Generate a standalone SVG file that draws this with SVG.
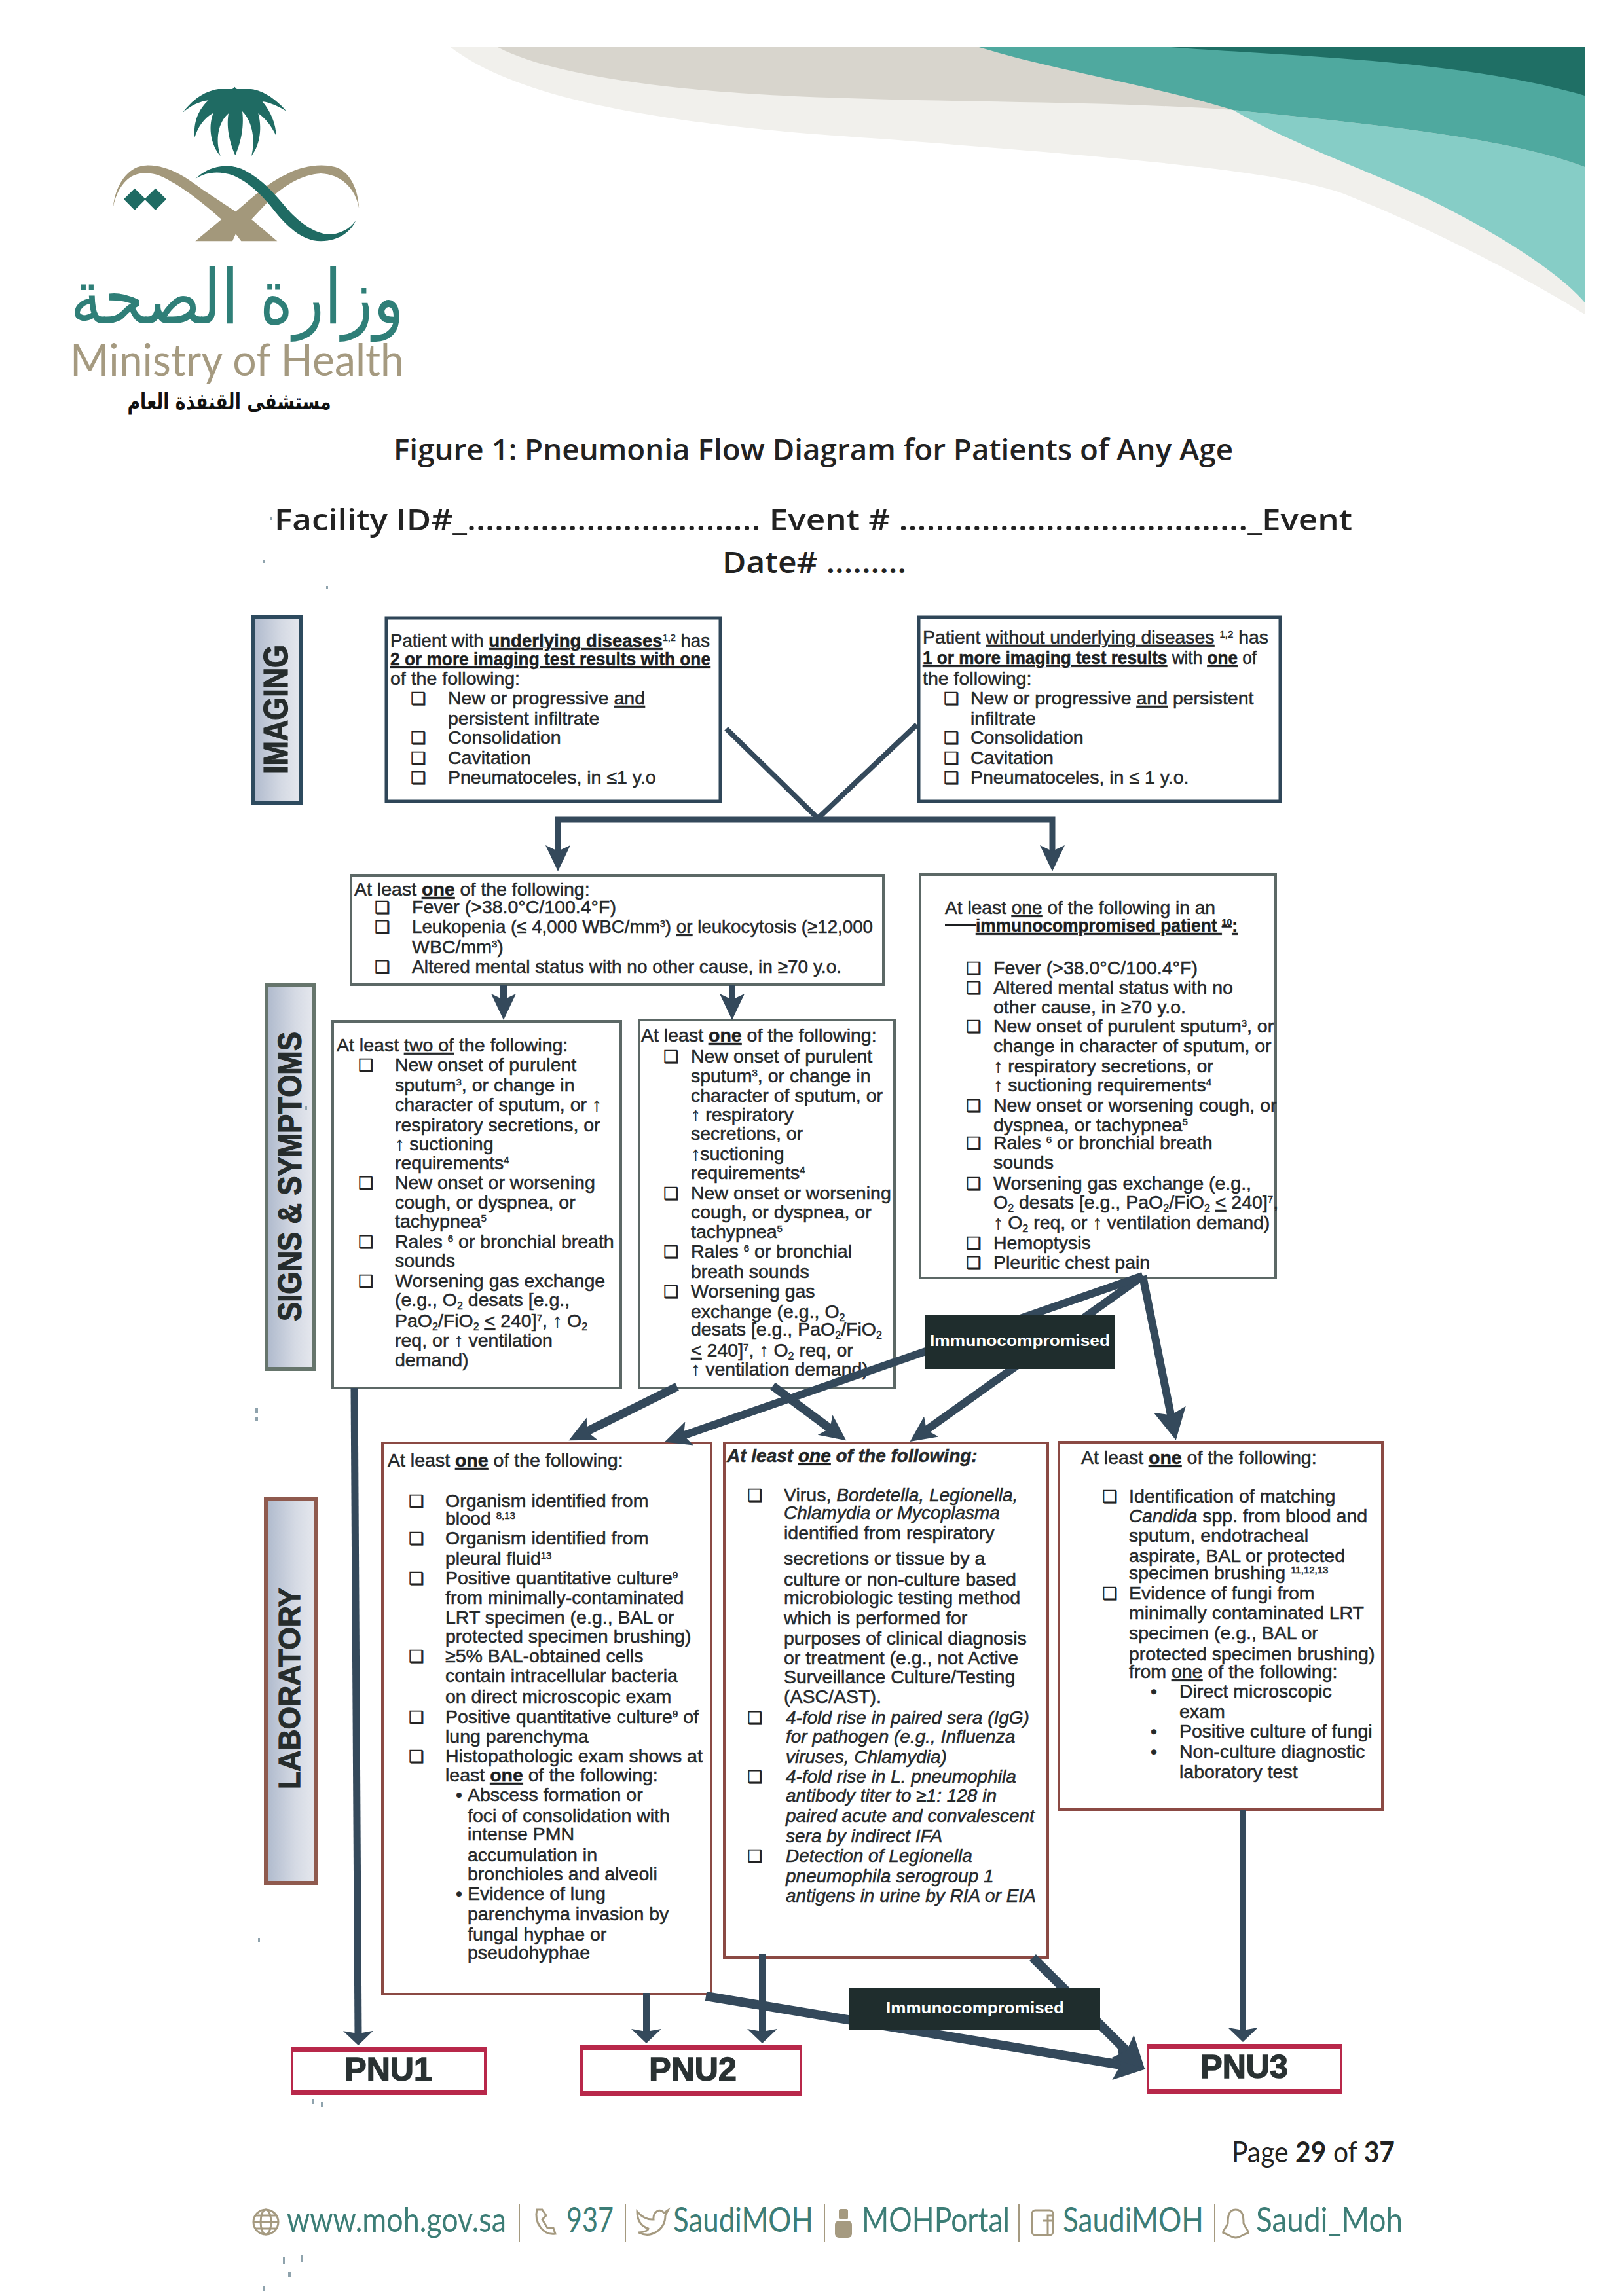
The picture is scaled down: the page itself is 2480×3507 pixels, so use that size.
<svg xmlns="http://www.w3.org/2000/svg" width="2480" height="3507" viewBox="0 0 2480 3507">
<style>
text{font-family:"Liberation Sans",Arial,sans-serif}
.t{font-size:28.5px;fill:#26292b;stroke:#26292b;stroke-width:.55}
.i{font-style:italic;font-size:28px}
.h{font-weight:bold;text-decoration:underline;fill:#1c1e20}
.u{text-decoration:underline}
.c{font-family:"DejaVu Sans",sans-serif;font-size:26px;fill:#222;stroke:#222;stroke-width:.7}
.s{font-size:15px;baseline-shift:9px}
.d{font-size:16px;baseline-shift:-5px}
.box{fill:#fff;stroke-width:4}
.im{stroke:#2f4658;stroke-width:5}.sg{stroke:#5c6866}.lb{stroke:#8b4a44}
.side{stroke-width:6;fill:url(#g)}
.lab{font-weight:bold;fill:#262c2c;stroke:#262c2c;stroke-width:1.2}
.ln{stroke:#34495b;fill:none;stroke-width:10}
.pn{fill:#fff;stroke:#b8284a;stroke-width:4}
.pb{fill:#b8284a}
.pt{font-size:50px;font-weight:bold;fill:#2a3233;stroke:#2a3233;stroke-width:1.5;text-anchor:middle}
.imm{fill:#1f2d2d}
.it{font-size:24px;font-weight:bold;fill:#fff}
.hd{font-family:"Open Sans",sans-serif;font-weight:600;fill:#222}
.ft{font-family:"Lato",sans-serif;font-size:52px;fill:#3c7d76}
.ic{fill:none;stroke:#a59a80;stroke-width:3}
.sep{stroke:#a59a80;stroke-width:2}
.sp{fill:#8fa3ad}
</style>
<defs>
<linearGradient id="g" x1="0" y1="0" x2="1" y2="0"><stop offset="0" stop-color="#aeb9cc"/><stop offset=".6" stop-color="#d5dae4"/><stop offset="1" stop-color="#e6e8ee"/></linearGradient>
<marker id="a" markerUnits="userSpaceOnUse" markerWidth="60" markerHeight="60" refX="26" refY="30" orient="auto"><path d="M0,11 L40,30 L0,49 L9,30 Z" fill="#34495b"/></marker>
<marker id="p" markerUnits="userSpaceOnUse" markerWidth="60" markerHeight="60" refX="8" refY="30" orient="auto"><path d="M0,7 L22,30 L0,53 L4,30 Z" fill="#34495b"/></marker>
<marker id="b" markerUnits="userSpaceOnUse" markerWidth="70" markerHeight="70" refX="34" refY="35" orient="auto"><path d="M0,10 L48,35 L0,60 L9,35 Z" fill="#34495b"/></marker>
</defs>
<rect width="2480" height="3507" fill="#fff"/>

<g id="header">
<path d="M688,72 C790,150 1000,190 1345,212 C1700,240 1960,260 2057,298 C2200,355 2340,430 2420,480 L2420,72 Z" fill="#f1f0ec"/>
<path d="M760,72 C830,110 1000,140 1266,149 C1500,157 1700,155 1883,168 L1883,72 Z" fill="#d8d5cd"/>
<path d="M1883,168 C1980,225 2130,275 2215,321 C2300,365 2385,420 2420,462 L2420,255 C2300,210 2100,190 1883,168 Z" fill="#86cdc6"/>
<path d="M1495,72 C1620,110 1760,130 1883,168 C2100,190 2300,210 2420,255 L2420,72 Z" fill="#4fa99f"/>
<path d="M1788,72 C1950,85 2230,90 2420,146 L2420,72 Z" fill="#1f6f65"/>
</g>

<g id="logo">
<g transform="translate(160,120) scale(.3333)">
<path d="M358,155 C400,100 450,60 520,48 L585,48 L595,38 L605,48 L670,48 C730,55 790,100 833,150 C800,130 760,110 722,105 C760,150 785,210 785,262 C765,220 735,180 703,160 C720,220 715,300 672,355 C690,290 680,200 630,150 C640,230 620,300 598,352 C575,300 555,230 567,160 C520,200 505,280 530,355 C490,310 470,230 497,158 C455,180 425,225 412,270 C405,200 430,140 475,100 C430,105 395,125 358,155 Z" fill="#1f6b63"/>
<path d="M38,590 C50,480 110,400 190,398 C290,395 370,450 450,510 L600,610 C680,540 760,470 830,440 C900,400 1000,385 1070,410 C1130,440 1160,510 1165,595 C1150,510 1090,440 990,435 C900,440 830,490 780,530 L672,645 L790,745 L625,745 L600,712 L585,745 L415,745 L535,645 C450,570 360,500 300,470 C240,430 170,420 120,450 C75,480 50,530 38,590 Z" fill="#a3987b"/>
<path d="M415,460 C470,405 560,380 640,420 C720,460 780,530 830,590 C890,660 980,730 1060,710 C1100,700 1130,680 1150,650 C1130,700 1070,745 990,745 C900,745 830,670 780,610 C720,530 650,470 590,445 C520,420 460,430 415,460 Z" fill="#1f6b63"/>
<path d="M87,553 L137,503 L187,553 L137,603 Z M182,553 L232,503 L282,553 L232,603 Z" fill="#1f6b63"/>
</g>
<text x="362" y="494" text-anchor="middle" style="font-family:'DejaVu Sans',sans-serif;font-size:116px;fill:#2f7f78" textLength="510" lengthAdjust="spacingAndGlyphs" direction="rtl">وزارة الصحة</text>
<text x="107" y="574" style="font-family:Lato,sans-serif;font-size:68px;fill:#a59a80" textLength="510" lengthAdjust="spacingAndGlyphs">Ministry of Health</text>
<text x="350" y="625" text-anchor="middle" style="font-family:'DejaVu Sans',sans-serif;font-size:34px;font-weight:bold;fill:#111" textLength="311" lengthAdjust="spacingAndGlyphs" direction="rtl">مستشفى القنفذة العام</text>
</g>

<g id="title">
<text class="hd" x="601" y="703" font-size="46" textLength="1282" lengthAdjust="spacingAndGlyphs">Figure 1: Pneumonia Flow Diagram for Patients of Any Age</text>
<text class="hd" x="419" y="810" font-size="46" textLength="1646" lengthAdjust="spacingAndGlyphs">Facility ID#_................................ Event # ......................................_Event</text>
<text class="hd" x="1103" y="875" font-size="46" textLength="281" lengthAdjust="spacingAndGlyphs">Date# .........</text>
</g>

<g id="side-imaging"><rect class="side" x="386" y="943" width="74" height="283" stroke="#2d4a5e"/><text class="lab" transform="translate(439,1182) rotate(-90)" font-size="52" textLength="197" lengthAdjust="spacingAndGlyphs">IMAGING</text></g>
<g id="side-signs"><rect class="side" x="407" y="1505" width="73" height="586" stroke="#66756c"/><text class="lab" transform="translate(460,2018) rotate(-90)" font-size="50" textLength="442" lengthAdjust="spacingAndGlyphs">SIGNS &amp; SYMPTOMS</text></g>
<g id="side-lab"><rect class="side" x="406" y="2289" width="76" height="587" stroke="#8f5a4e"/><text class="lab" transform="translate(458,2733) rotate(-90)" font-size="46" textLength="308" lengthAdjust="spacingAndGlyphs">LABORATORY</text></g>

<g id="img-underlying"><rect class="box im" x="590" y="944" width="510" height="280"/>
<text class="t" x="596" y="988" textLength="488" lengthAdjust="spacingAndGlyphs">Patient with <tspan class="h">underlying diseases</tspan><tspan class="s">1,2</tspan> has</text>
<text class="t h" x="596" y="1016" textLength="489" lengthAdjust="spacingAndGlyphs">2 or more imaging test results with one</text>
<text class="t" x="596" y="1046">of the following:</text>
<text class="c" x="627" y="1076">❑</text><text class="t" x="684" y="1076">New or progressive <tspan class="u">and</tspan></text>
<text class="t" x="684" y="1107">persistent infiltrate</text>
<text class="c" x="627" y="1136">❑</text><text class="t" x="684" y="1136">Consolidation</text>
<text class="c" x="627" y="1167">❑</text><text class="t" x="684" y="1167">Cavitation</text>
<text class="c" x="627" y="1197">❑</text><text class="t" x="684" y="1197">Pneumatoceles, in ≤1 y.o</text></g>

<g id="img-without"><rect class="box im" x="1403" y="943" width="552" height="281"/>
<text class="t" x="1409" y="983" textLength="528" lengthAdjust="spacingAndGlyphs">Patient <tspan class="u">without underlying diseases</tspan> <tspan class="s">1,2</tspan> has</text>
<text class="t" x="1409" y="1014" textLength="510" lengthAdjust="spacingAndGlyphs"><tspan class="h">1 or more imaging test results</tspan> with <tspan class="h">one</tspan> of</text>
<text class="t" x="1409" y="1046">the following:</text>
<text class="c" x="1441" y="1076">❑</text><text class="t" x="1482" y="1076">New or progressive <tspan class="u">and</tspan> persistent</text>
<text class="t" x="1482" y="1107">infiltrate</text>
<text class="c" x="1441" y="1136">❑</text><text class="t" x="1482" y="1136">Consolidation</text>
<text class="c" x="1441" y="1167">❑</text><text class="t" x="1482" y="1167">Cavitation</text>
<text class="c" x="1441" y="1197">❑</text><text class="t" x="1482" y="1197">Pneumatoceles, in ≤ 1 y.o.</text></g>

<g id="sym-general"><rect class="box sg" x="536" y="1337" width="813" height="167"/>
<text class="t" x="541" y="1368">At least <tspan class="h">one</tspan> of the following:</text>
<text class="c" x="572" y="1395">❑</text><text class="t" x="629" y="1395">Fever (&gt;38.0°C/100.4°F)</text>
<text class="c" x="572" y="1425">❑</text><text class="t" x="629" y="1425" textLength="704" lengthAdjust="spacingAndGlyphs">Leukopenia (≤ 4,000 WBC/mm<tspan class="s">3</tspan>) <tspan class="u">or</tspan> leukocytosis (≥12,000</text>
<text class="t" x="629" y="1456">WBC/mm<tspan class="s">3</tspan>)</text>
<text class="c" x="572" y="1486">❑</text><text class="t" x="629" y="1486" textLength="656" lengthAdjust="spacingAndGlyphs">Altered mental status with no other cause, in ≥70 y.o.</text></g>

<g id="sym-two"><rect class="box sg" x="508" y="1560" width="440" height="560"/>
<text class="t" x="514" y="1606">At least <tspan class="u">two of</tspan> the following:</text>
<text class="c" x="547" y="1636">❑</text><text class="t" x="603" y="1636">New onset of purulent</text>
<text class="t" x="603" y="1667">sputum<tspan class="s">3</tspan>, or change in</text>
<text class="t" x="603" y="1697">character of sputum, or ↑</text>
<text class="t" x="603" y="1728">respiratory secretions, or</text>
<text class="t" x="603" y="1757">↑ suctioning</text>
<text class="t" x="603" y="1786">requirements<tspan class="s">4</tspan></text>
<text class="c" x="547" y="1816">❑</text><text class="t" x="603" y="1816">New onset or worsening</text>
<text class="t" x="603" y="1846">cough, or dyspnea, or</text>
<text class="t" x="603" y="1875">tachypnea<tspan class="s">5</tspan></text>
<text class="c" x="547" y="1906">❑</text><text class="t" x="603" y="1906">Rales <tspan class="s">6</tspan> or bronchial breath</text>
<text class="t" x="603" y="1935">sounds</text>
<text class="c" x="547" y="1966">❑</text><text class="t" x="603" y="1966">Worsening gas exchange</text>
<text class="t" x="603" y="1995">(e.g., O<tspan class="d">2</tspan> desats [e.g.,</text>
<text class="t" x="603" y="2027">PaO<tspan class="d">2</tspan>/FiO<tspan class="d">2</tspan> <tspan class="u">&lt;</tspan> 240]<tspan class="s">7</tspan>, ↑ O<tspan class="d">2</tspan></text>
<text class="t" x="603" y="2057">req, or ↑ ventilation</text>
<text class="t" x="603" y="2087">demand)</text></g>

<g id="sym-one"><rect class="box sg" x="976" y="1558" width="390" height="562"/>
<text class="t" x="979" y="1591">At least <tspan class="h">one</tspan> of the following:</text>
<text class="c" x="1013" y="1623">❑</text><text class="t" x="1055" y="1623">New onset of purulent</text>
<text class="t" x="1055" y="1653">sputum<tspan class="s">3</tspan>, or change in</text>
<text class="t" x="1055" y="1683">character of sputum, or</text>
<text class="t" x="1055" y="1712">↑ respiratory</text>
<text class="t" x="1055" y="1741">secretions, or</text>
<text class="t" x="1055" y="1772">↑suctioning</text>
<text class="t" x="1055" y="1801">requirements<tspan class="s">4</tspan></text>
<text class="c" x="1013" y="1832">❑</text><text class="t" x="1055" y="1832">New onset or worsening</text>
<text class="t" x="1055" y="1861">cough, or dyspnea, or</text>
<text class="t" x="1055" y="1891">tachypnea<tspan class="s">5</tspan></text>
<text class="c" x="1013" y="1921">❑</text><text class="t" x="1055" y="1921">Rales <tspan class="s">6</tspan> or bronchial</text>
<text class="t" x="1055" y="1952">breath sounds</text>
<text class="c" x="1013" y="1982">❑</text><text class="t" x="1055" y="1982">Worsening gas</text>
<text class="t" x="1055" y="2013">exchange (e.g., O<tspan class="d">2</tspan></text>
<text class="t" x="1055" y="2040">desats [e.g., PaO<tspan class="d">2</tspan>/FiO<tspan class="d">2</tspan></text>
<text class="t" x="1055" y="2072"><tspan class="u">&lt;</tspan> 240]<tspan class="s">7</tspan>, ↑ O<tspan class="d">2</tspan> req, or</text>
<text class="t" x="1055" y="2101">↑ ventilation demand)</text></g>

<g id="sym-immuno"><rect class="box sg" x="1405" y="1336" width="543" height="616"/>
<text class="t" x="1443" y="1396" textLength="413" lengthAdjust="spacingAndGlyphs">At least <tspan class="u">one</tspan> of the following in an</text>
<path d="M1443,1413 H1490" stroke="#1c1e20" stroke-width="4"/>
<text class="t h" x="1490" y="1423" textLength="400" lengthAdjust="spacingAndGlyphs">immunocompromised patient <tspan class="s">10</tspan>:</text>
<text class="c" x="1475" y="1488">❑</text><text class="t" x="1517" y="1488">Fever (&gt;38.0°C/100.4°F)</text>
<text class="c" x="1475" y="1518">❑</text><text class="t" x="1517" y="1518">Altered mental status with no</text>
<text class="t" x="1517" y="1548">other cause, in ≥70 y.o.</text>
<text class="c" x="1475" y="1577">❑</text><text class="t" x="1517" y="1577">New onset of purulent sputum<tspan class="s">3</tspan>, or</text>
<text class="t" x="1517" y="1607">change in character of sputum, or</text>
<text class="t" x="1517" y="1638">↑ respiratory secretions, or</text>
<text class="t" x="1517" y="1667">↑ suctioning requirements<tspan class="s">4</tspan></text>
<text class="c" x="1475" y="1698">❑</text><text class="t" x="1517" y="1698">New onset or worsening cough, or</text>
<text class="t" x="1517" y="1728">dyspnea, or tachypnea<tspan class="s">5</tspan></text>
<text class="c" x="1475" y="1755">❑</text><text class="t" x="1517" y="1755">Rales <tspan class="s">6</tspan> or bronchial breath</text>
<text class="t" x="1517" y="1785">sounds</text>
<text class="c" x="1475" y="1817">❑</text><text class="t" x="1517" y="1817">Worsening gas exchange (e.g.,</text>
<text class="t" x="1517" y="1846">O<tspan class="d">2</tspan> desats [e.g., PaO<tspan class="d">2</tspan>/FiO<tspan class="d">2</tspan> <tspan class="u">&lt;</tspan> 240]<tspan class="s">7</tspan>,</text>
<text class="t" x="1517" y="1877">↑ O<tspan class="d">2</tspan> req, or ↑ ventilation demand)</text>
<text class="c" x="1475" y="1908">❑</text><text class="t" x="1517" y="1908">Hemoptysis</text>
<text class="c" x="1475" y="1938">❑</text><text class="t" x="1517" y="1938">Pleuritic chest pain</text></g>

<g id="lab-bacterial"><rect class="box lb" x="584" y="2204" width="502" height="842"/>
<text class="t" x="592" y="2240">At least <tspan class="h">one</tspan> of the following:</text>
<text class="c" x="624" y="2302">❑</text><text class="t" x="680" y="2302">Organism identified from</text>
<text class="t" x="680" y="2329">blood <tspan class="s">8,13</tspan></text>
<text class="c" x="624" y="2359">❑</text><text class="t" x="680" y="2359">Organism identified from</text>
<text class="t" x="680" y="2390">pleural fluid<tspan class="s">13</tspan></text>
<text class="c" x="624" y="2420">❑</text><text class="t" x="680" y="2420">Positive quantitative culture<tspan class="s">9</tspan></text>
<text class="t" x="680" y="2450">from minimally-contaminated</text>
<text class="t" x="680" y="2480">LRT specimen (e.g., BAL or</text>
<text class="t" x="680" y="2509">protected specimen brushing)</text>
<text class="c" x="624" y="2539">❑</text><text class="t" x="680" y="2539">≥5% BAL-obtained cells</text>
<text class="t" x="680" y="2569">contain intracellular bacteria</text>
<text class="t" x="680" y="2601">on direct microscopic exam</text>
<text class="c" x="624" y="2632">❑</text><text class="t" x="680" y="2632">Positive quantitative culture<tspan class="s">9</tspan> of</text>
<text class="t" x="680" y="2662">lung parenchyma</text>
<text class="c" x="624" y="2692">❑</text><text class="t" x="680" y="2692">Histopathologic exam shows at</text>
<text class="t" x="680" y="2721">least <tspan class="h">one</tspan> of the following:</text>
<text class="t" x="696" y="2751">•</text><text class="t" x="714" y="2751">Abscess formation or</text>
<text class="t" x="714" y="2783">foci of consolidation with</text>
<text class="t" x="714" y="2811">intense PMN</text>
<text class="t" x="714" y="2843">accumulation in</text>
<text class="t" x="714" y="2872">bronchioles and alveoli</text>
<text class="t" x="696" y="2902">•</text><text class="t" x="714" y="2902">Evidence of lung</text>
<text class="t" x="714" y="2933">parenchyma invasion by</text>
<text class="t" x="714" y="2964">fungal hyphae or</text>
<text class="t" x="714" y="2992">pseudohyphae</text></g>

<g id="lab-viral"><rect class="box lb" x="1106" y="2204" width="494" height="786"/>
<text class="t i" x="1110" y="2233" style="font-weight:bold">At least <tspan class="h">one</tspan> of the following:</text>
<text class="c" x="1141" y="2293">❑</text><text class="t" x="1197" y="2293">Virus, <tspan class="i">Bordetella, Legionella,</tspan></text>
<text class="t i" x="1197" y="2320">Chlamydia or Mycoplasma</text>
<text class="t" x="1197" y="2351">identified from respiratory</text>
<text class="t" x="1197" y="2390">secretions or tissue  by a</text>
<text class="t" x="1197" y="2422">culture or non-culture based</text>
<text class="t" x="1197" y="2450">microbiologic testing method</text>
<text class="t" x="1197" y="2481">which is performed for</text>
<text class="t" x="1197" y="2512">purposes of clinical diagnosis</text>
<text class="t" x="1197" y="2542">or treatment (e.g., not Active</text>
<text class="t" x="1197" y="2571">Surveillance Culture/Testing</text>
<text class="t" x="1197" y="2601">(ASC/AST).</text>
<text class="c" x="1141" y="2633">❑</text><text class="t i" x="1200" y="2633">4-fold rise in paired sera (IgG)</text>
<text class="t i" x="1200" y="2662">for pathogen (e.g., Influenza</text>
<text class="t i" x="1200" y="2693">viruses, Chlamydia)</text>
<text class="c" x="1141" y="2723">❑</text><text class="t i" x="1200" y="2723">4-fold rise in L. pneumophila</text>
<text class="t i" x="1200" y="2752">antibody titer to ≥1: 128 in</text>
<text class="t i" x="1200" y="2783">paired acute and convalescent</text>
<text class="t i" x="1200" y="2814">sera by indirect IFA</text>
<text class="c" x="1141" y="2844">❑</text><text class="t i" x="1200" y="2844">Detection of Legionella</text>
<text class="t i" x="1200" y="2875">pneumophila serogroup 1</text>
<text class="t i" x="1200" y="2905">antigens in urine by RIA or EIA</text></g>

<g id="lab-fungal"><rect class="box lb" x="1617" y="2203" width="494" height="561"/>
<text class="t" x="1651" y="2236">At least <tspan class="h">one</tspan> of the following:</text>
<text class="c" x="1683" y="2295">❑</text><text class="t" x="1724" y="2295">Identification of matching</text>
<text class="t" x="1724" y="2325"><tspan class="i">Candida</tspan> spp. from blood and</text>
<text class="t" x="1724" y="2355">sputum, endotracheal</text>
<text class="t" x="1724" y="2386">aspirate, BAL or protected</text>
<text class="t" x="1724" y="2412">specimen brushing <tspan class="s">11,12,13</tspan></text>
<text class="c" x="1683" y="2443">❑</text><text class="t" x="1724" y="2443">Evidence of fungi from</text>
<text class="t" x="1724" y="2473">minimally contaminated LRT</text>
<text class="t" x="1724" y="2504">specimen (e.g., BAL or</text>
<text class="t" x="1724" y="2536">protected specimen brushing)</text>
<text class="t" x="1724" y="2563">from <tspan class="u">one</tspan> of the following:</text>
<text class="t" x="1757" y="2593">•</text><text class="t" x="1801" y="2593">Direct microscopic</text>
<text class="t" x="1801" y="2624">exam</text>
<text class="t" x="1757" y="2654">•</text><text class="t" x="1801" y="2654">Positive culture of fungi</text>
<text class="t" x="1757" y="2685">•</text><text class="t" x="1801" y="2685">Non-culture diagnostic</text>
<text class="t" x="1801" y="2716">laboratory test</text></g>

<g id="pnu1"><rect class="pn" x="446" y="3128" width="295" height="70"/><rect class="pb" x="446" y="3126" width="295" height="8"/><rect class="pb" x="446" y="3192" width="295" height="8"/><text class="pt" x="593" y="3178">PNU1</text></g>
<g id="pnu2"><rect class="pn" x="888" y="3126" width="335" height="74"/><rect class="pb" x="888" y="3124" width="335" height="8"/><rect class="pb" x="888" y="3194" width="335" height="8"/><text class="pt" x="1058" y="3178">PNU2</text></g>
<g id="pnu3"><rect class="pn" x="1753" y="3124" width="295" height="73"/><rect class="pb" x="1753" y="3122" width="295" height="8"/><rect class="pb" x="1753" y="3191" width="295" height="8"/><text class="pt" x="1900" y="3174">PNU3</text></g>

<g id="connectors">
<path class="ln" d="M1109,1113 L1249,1250 M1400,1107 L1249,1250" style="stroke-width:8"/>
<path class="ln" d="M852,1317 V1252 H1607 V1317" style="stroke-width:9" marker-end="url(#a)"/>
<path class="ln" d="M852,1252 V1317" style="stroke-width:9" marker-end="url(#a)"/>
<path class="ln" d="M769,1504 V1544" marker-end="url(#a)"/>
<path class="ln" d="M1118,1504 V1544" marker-end="url(#a)"/>
<path class="ln" d="M541,2120 L547,3110" style="stroke-width:11" marker-end="url(#p)"/>
<path class="ln" d="M1034,2118 L881,2194" style="stroke-width:13" marker-end="url(#a)"/>
<path class="ln" d="M1180,2117 L1281,2192" style="stroke-width:13" marker-end="url(#a)"/>
<path class="ln" d="M1745,1949 L1401,2194" style="stroke-width:12" marker-end="url(#a)"/>
<path class="ln" d="M1745,1949 L1028,2198" style="stroke-width:12" marker-end="url(#a)"/>
<path class="ln" d="M1745,1949 L1793,2186" style="stroke-width:12" marker-end="url(#b)"/>
<path class="ln" d="M987,3044 V3107" marker-end="url(#p)"/>
<path class="ln" d="M1164,2984 V3107" marker-end="url(#p)"/>
<path class="ln" d="M1898,2764 V3105" marker-end="url(#p)"/>
<path class="ln" d="M1078,3049 L1736,3158" style="stroke-width:14" marker-end="url(#b)"/>
<path class="ln" d="M1577,2990 L1738,3150" style="stroke-width:14" marker-end="url(#b)"/>
</g>

<g id="immuno-top"><rect class="imm" x="1412" y="2009" width="290" height="82"/><text class="it" x="1420" y="2056" textLength="275" lengthAdjust="spacingAndGlyphs">Immunocompromised</text></g>
<g id="immuno-bottom"><rect class="imm" x="1296" y="3036" width="384" height="65"/><text class="it" x="1353" y="3075" textLength="272" lengthAdjust="spacingAndGlyphs">Immunocompromised</text></g>

<g id="footer">
<text x="1881" y="3303" style="font-family:Lato,sans-serif;font-size:44px;fill:#222" textLength="249" lengthAdjust="spacingAndGlyphs">Page <tspan font-weight="bold">29</tspan> of <tspan font-weight="bold">37</tspan></text>
<circle class="ic" cx="406" cy="3394" r="19"/><ellipse class="ic" cx="406" cy="3394" rx="8" ry="19"/><path class="ic" d="M387,3394 H425 M390,3384 H422 M390,3404 H422"/>
<text class="ft" x="438" y="3409" textLength="335" lengthAdjust="spacingAndGlyphs">www.moh.gov.sa</text>
<path class="sep" d="M793,3366 V3425"/>
<path class="ic" d="M820,3375 C815,3395 830,3415 848,3412 L845,3403 L836,3403 L828,3390 L834,3384 L828,3375 Z"/>
<text class="ft" x="865" y="3409" textLength="72" lengthAdjust="spacingAndGlyphs">937</text>
<path class="sep" d="M955,3366 V3425"/>
<path class="ic" d="M973,3378 C985,3392 995,3390 998,3390 C997,3378 1008,3372 1014,3380 L1020,3376 L1016,3384 C1016,3405 995,3420 975,3410 C985,3410 990,3406 990,3404 C978,3400 973,3390 973,3378 Z"/>
<text class="ft" x="1028" y="3409" textLength="214" lengthAdjust="spacingAndGlyphs">SaudiMOH</text>
<path class="sep" d="M1259,3366 V3425"/>
<rect x="1275" y="3392" width="26" height="26" rx="6" fill="#a59a80"/><rect x="1281" y="3374" width="14" height="16" rx="3" fill="#a59a80"/>
<text class="ft" x="1316" y="3409" textLength="226" lengthAdjust="spacingAndGlyphs">MOHPortal</text>
<path class="sep" d="M1556,3366 V3425"/>
<rect class="ic" x="1576" y="3376" width="32" height="38" rx="5"/><path class="ic" d="M1600,3414 V3392 H1592 M1608,3384 H1600 V3392 H1608"/>
<text class="ft" x="1623" y="3409" textLength="215" lengthAdjust="spacingAndGlyphs">SaudiMOH</text>
<path class="sep" d="M1855,3366 V3425"/>
<path class="ic" d="M1887,3375 C1875,3375 1875,3388 1875,3396 C1872,3404 1866,3408 1868,3411 C1875,3412 1880,3418 1887,3418 C1894,3418 1899,3412 1906,3411 C1908,3408 1902,3404 1899,3396 C1899,3388 1899,3375 1887,3375 Z"/>
<text class="ft" x="1918" y="3409" textLength="224" lengthAdjust="spacingAndGlyphs">Saudi_Moh</text>
</g>

<g id="scan-specks">
<rect class="sp" x="389" y="2150" width="5" height="9"/><rect class="sp" x="390" y="2165" width="4" height="5"/><rect class="sp" x="466" y="1690" width="3" height="5"/><rect class="sp" x="394" y="2960" width="3" height="6"/><rect class="sp" x="490" y="3210" width="3" height="8"/><rect class="sp" x="476" y="3206" width="3" height="7"/><rect class="sp" x="432" y="3448" width="3" height="10"/><rect class="sp" x="460" y="3445" width="3" height="10"/><rect class="sp" x="440" y="3470" width="4" height="8"/><rect class="sp" x="402" y="3492" width="3" height="7"/><rect class="sp" x="412" y="790" width="3" height="5"/><rect class="sp" x="402" y="855" width="3" height="5"/><rect class="sp" x="498" y="895" width="3" height="5"/>
</g>
</svg>
